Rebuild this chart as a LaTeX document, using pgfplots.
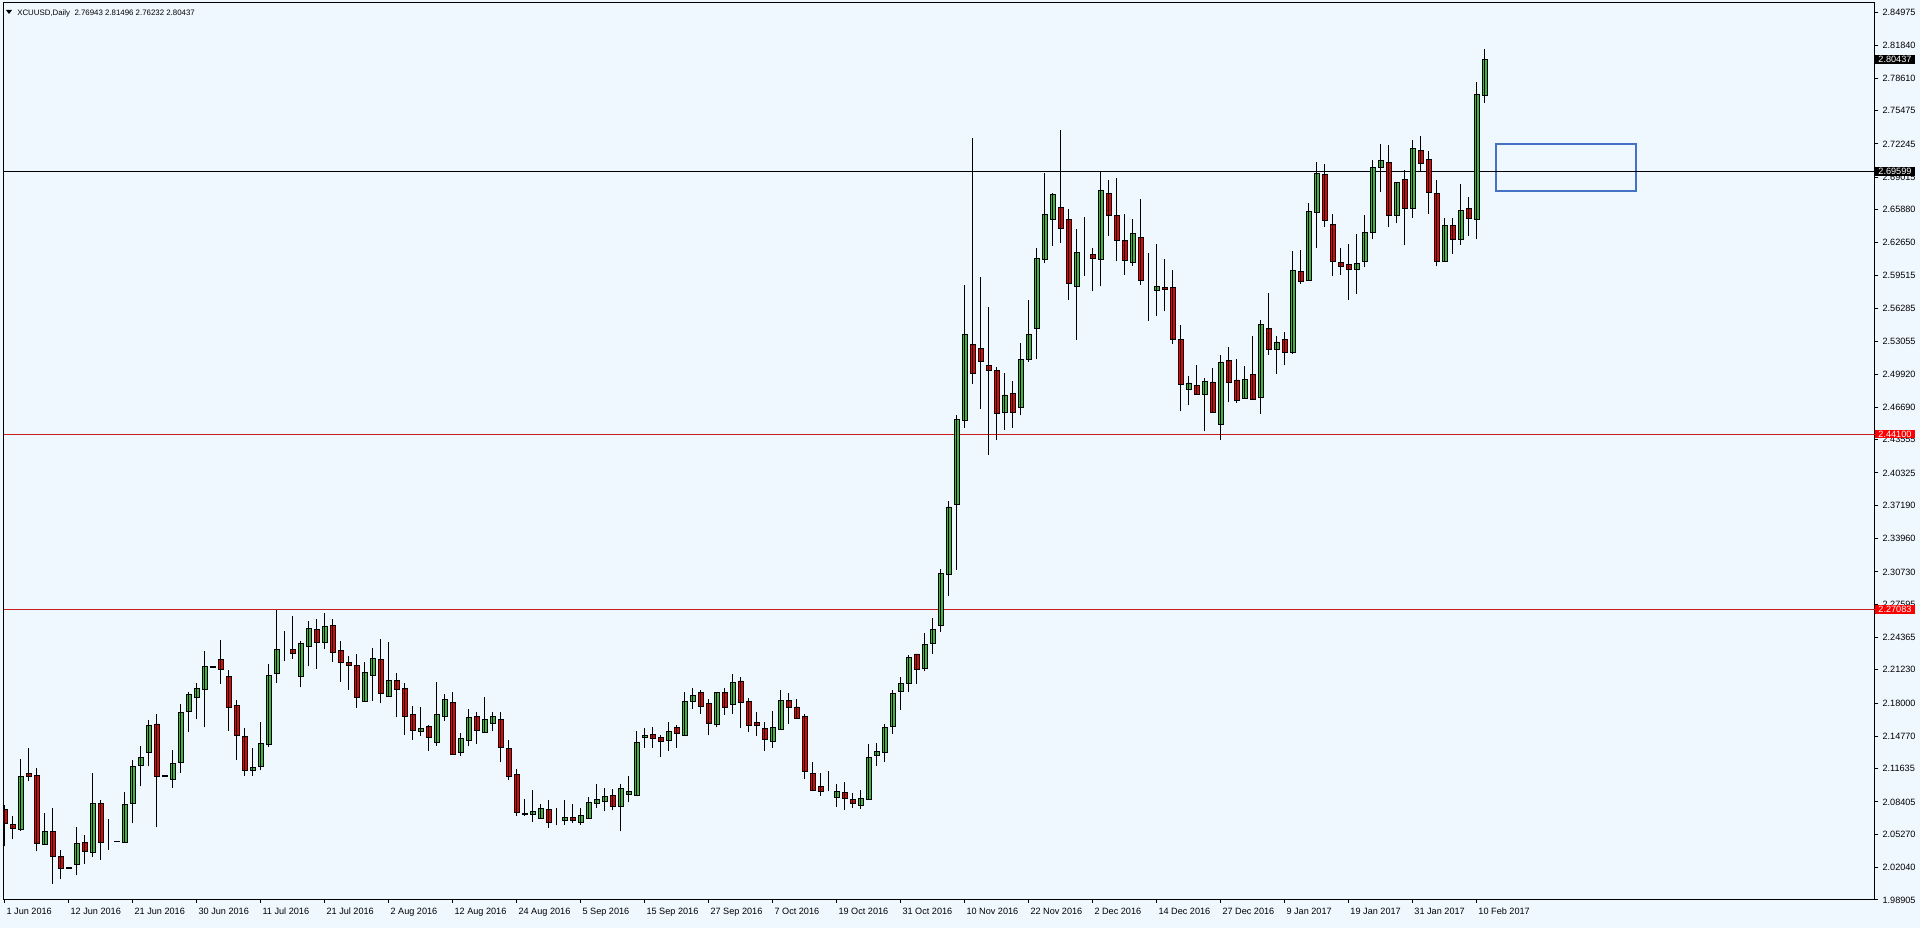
\documentclass[border=0pt]{standalone}
\usepackage{pgfplots}
\pgfplotsset{compat=1.18}
\usepackage{pgfplotstable}
\usepackage{fontspec}
\setmainfont{Liberation Sans}

\definecolor{chartbg}{RGB}{240,248,255}
\definecolor{bull}{RGB}{64,184,64}
\definecolor{bear}{RGB}{235,0,0}
\definecolor{lvlred}{RGB}{200,30,30}
\definecolor{boxblue}{RGB}{68,114,196}

% daily candles: bar index, open, high, low, close
\pgfplotstableread{
i o h l c
0 2.0772 2.0814 2.0410 2.0629
1 2.0620 2.0700 2.0481 2.0587
2 2.0578 2.1259 2.0562 2.1091
3 2.1114 2.1366 2.1040 2.1088
4 2.1101 2.1169 2.0361 2.0442
5 2.0432 2.0733 2.0432 2.0558
6 2.0558 2.0781 2.0045 2.0316
7 2.0310 2.0377 2.0093 2.0200
8 2.0200 2.0203 2.0197 2.0202
9 2.0239 2.0594 2.0129 2.0442
10 2.0452 2.0516 2.0235 2.0361
11 2.0355 2.1120 2.0306 2.0830
12 2.0830 2.0862 2.0281 2.0449
13 2.0458 2.0675 2.0377 2.0458
14 2.0458 2.0460 2.0456 2.0459
15 2.0449 2.0933 2.0449 2.0820
16 2.0826 2.1250 2.0636 2.1188
17 2.1195 2.1385 2.0991 2.1275
18 2.1321 2.1637 2.1185 2.1579
19 2.1598 2.1695 2.0594 2.1091
20 2.1091 2.1098 2.1089 2.1096
21 2.1060 2.1341 2.0980 2.1212
22 2.1225 2.1790 2.1122 2.1713
23 2.1719 2.1903 2.1516 2.1881
24 2.1858 2.1994 2.1645 2.1939
25 2.1933 2.2301 2.1568 2.2152
26 2.2149 2.2154 2.2147 2.2152
27 2.2220 2.2414 2.1987 2.2130
28 2.2055 2.2123 2.1532 2.1761
29 2.1781 2.1826 2.1251 2.1487
30 2.1474 2.1558 2.1089 2.1148
31 2.1148 2.1364 2.1089 2.1173
32 2.1186 2.1613 2.1148 2.1406
33 2.1400 2.2181 2.1374 2.2065
34 2.2091 2.2704 2.1994 2.2317
35 2.2323 2.2504 2.2204 2.2323
36 2.2323 2.2646 2.2230 2.2285
37 2.2058 2.2398 2.1952 2.2375
38 2.2352 2.2598 2.2155 2.2520
39 2.2511 2.2617 2.2133 2.2391
40 2.2391 2.2672 2.2323 2.2543
41 2.2549 2.2620 2.2203 2.2290
42 2.2307 2.2407 2.2006 2.2194
43 2.2190 2.2258 2.1929 2.2164
44 2.2161 2.2281 2.1751 2.1854
45 2.1819 2.2194 2.1819 2.2093
46 2.2071 2.2332 2.1822 2.2229
47 2.2219 2.2423 2.1799 2.1896
48 2.1867 2.2397 2.1858 2.2016
49 2.2016 2.2090 2.1661 2.1935
50 2.1938 2.1993 2.1493 2.1670
51 2.1693 2.1767 2.1444 2.1538
52 2.1528 2.1758 2.1476 2.1551
53 2.1570 2.1586 2.1338 2.1464
54 2.1418 2.2003 2.1386 2.1686
55 2.1674 2.1887 2.1628 2.1832
56 2.1803 2.1909 2.1305 2.1305
57 2.1325 2.1512 2.1283 2.1454
58 2.1441 2.1741 2.1380 2.1657
59 2.1674 2.1709 2.1405 2.1531
60 2.1515 2.1858 2.1509 2.1638
61 2.1605 2.1712 2.1525 2.1667
62 2.1644 2.1709 2.1224 2.1373
63 2.1363 2.1444 2.1050 2.1088
64 2.1111 2.1163 2.0707 2.0740
65 2.0733 2.0872 2.0701 2.0717
66 2.0724 2.0959 2.0646 2.0746
67 2.0685 2.0824 2.0675 2.0782
68 2.0772 2.0856 2.0588 2.0643
69 2.0646 2.0782 2.0614 2.0646
70 2.0662 2.0856 2.0620 2.0688
71 2.0688 2.0820 2.0636 2.0662
72 2.0646 2.0782 2.0620 2.0714
73 2.0685 2.0888 2.0675 2.0840
74 2.0827 2.1017 2.0782 2.0869
75 2.0846 2.0975 2.0749 2.0898
76 2.0901 2.0969 2.0759 2.0798
77 2.0798 2.1014 2.0556 2.0975
78 2.0914 2.1095 2.0837 2.0940
79 2.0901 2.1525 2.0895 2.1421
80 2.1463 2.1554 2.1363 2.1489
81 2.1499 2.1570 2.1363 2.1453
82 2.1463 2.1492 2.1276 2.1428
83 2.1437 2.1612 2.1337 2.1521
84 2.1560 2.1589 2.1369 2.1505
85 2.1486 2.1912 2.1476 2.1812
86 2.1815 2.1944 2.1744 2.1870
87 2.1899 2.1928 2.1696 2.1767
88 2.1793 2.1844 2.1486 2.1605
89 2.1596 2.1912 2.1566 2.1899
90 2.1906 2.1944 2.1689 2.1757
91 2.1789 2.2083 2.1692 2.2002
92 2.2015 2.2051 2.1557 2.1809
93 2.1812 2.1847 2.1515 2.1583
94 2.1612 2.1709 2.1476 2.1586
95 2.1557 2.1615 2.1337 2.1450
96 2.1431 2.1725 2.1369 2.1566
97 2.1541 2.1928 2.1541 2.1828
98 2.1828 2.1902 2.1596 2.1760
99 2.1763 2.1841 2.1644 2.1650
100 2.1667 2.1699 2.1063 2.1137
101 2.1114 2.1224 2.0943 2.0953
102 2.0991 2.1121 2.0901 2.0946
103 2.0943 2.1142 2.0943 2.0943
104 2.0888 2.1019 2.0795 2.0943
105 2.0935 2.1036 2.0761 2.0871
106 2.0867 2.0930 2.0782 2.0825
107 2.0812 2.0956 2.0774 2.0875
108 2.0863 2.1400 2.0863 2.1269
109 2.1290 2.1417 2.1189 2.1333
110 2.1324 2.1599 2.1227 2.1565
111 2.1574 2.1925 2.1502 2.1896
112 2.1913 2.2052 2.1735 2.1989
113 2.1989 2.2264 2.1904 2.2247
114 2.2277 2.2277 2.1989 2.2128
115 2.2137 2.2476 2.2107 2.2370
116 2.2382 2.2624 2.2277 2.2518
117 2.2552 2.3102 2.2488 2.3060
118 2.3051 2.3758 2.2835 2.3703
119 2.3724 2.4592 2.3094 2.4550
120 2.4541 2.5853 2.4469 2.5379
121 2.5282 2.7280 2.4893 2.5003
122 2.5244 2.5930 2.4656 2.5117
123 2.5079 2.5642 2.4211 2.5028
124 2.5025 2.5060 2.4350 2.4615
125 2.4624 2.5002 2.4450 2.4789
126 2.4808 2.4928 2.4470 2.4624
127 2.4673 2.5293 2.4592 2.5138
128 2.5138 2.5713 2.5109 2.5380
129 2.5435 2.6213 2.5138 2.6117
130 2.6107 2.6947 2.6068 2.6543
131 2.6494 2.6753 2.6236 2.6737
132 2.6611 2.7360 2.6262 2.6407
133 2.6488 2.6595 2.5713 2.5874
134 2.5842 2.6398 2.5325 2.6175
135 2.6171 2.6520 2.5945 2.6171
136 2.6149 2.6213 2.5794 2.6117
137 2.6107 2.6966 2.5842 2.6769
138 2.6746 2.6876 2.6333 2.6530
139 2.6527 2.6898 2.6084 2.6288
140 2.6285 2.6543 2.5955 2.6094
141 2.6075 2.6498 2.6042 2.6359
142 2.6314 2.6691 2.5858 2.5900
143 2.5819 2.6165 2.5509 2.5819
144 2.5803 2.6252 2.5552 2.5842
145 2.5836 2.6110 2.5600 2.5816
146 2.5836 2.6004 2.5283 2.5332
147 2.5325 2.5464 2.4631 2.4889
148 2.4847 2.4970 2.4689 2.4906
149 2.4880 2.5083 2.4792 2.4792
150 2.4792 2.4954 2.4437 2.4922
151 2.4915 2.5051 2.4621 2.4621
152 2.4508 2.5180 2.4356 2.5109
153 2.5122 2.5251 2.4718 2.4912
154 2.4935 2.5141 2.4712 2.4738
155 2.4751 2.5067 2.4751 2.4944
156 2.4986 2.5364 2.4744 2.4744
157 2.4770 2.5519 2.4605 2.5471
158 2.5438 2.5778 2.5180 2.5229
159 2.5229 2.5364 2.4996 2.5303
160 2.5325 2.5397 2.5077 2.5206
161 2.5206 2.6181 2.5190 2.5994
162 2.5988 2.6198 2.5865 2.5891
163 2.5900 2.6650 2.5900 2.6569
164 2.6559 2.7047 2.6214 2.6940
165 2.6925 2.7029 2.6418 2.6483
166 2.6447 2.6547 2.5940 2.6086
167 2.6079 2.6215 2.5956 2.6037
168 2.6053 2.6254 2.5714 2.6011
169 2.6011 2.6354 2.5772 2.6069
170 2.6086 2.6531 2.6027 2.6370
171 2.6370 2.7064 2.6302 2.7000
172 2.7000 2.7226 2.6754 2.7061
173 2.7048 2.7210 2.6415 2.6531
174 2.6531 2.6854 2.6457 2.6854
175 2.6877 2.6967 2.6241 2.6602
176 2.6602 2.7265 2.6505 2.7177
177 2.7161 2.7303 2.6948 2.7038
178 2.7077 2.7158 2.6547 2.6757
179 2.6748 2.6870 2.6037 2.6086
180 2.6086 2.6505 2.6086 2.6434
181 2.6434 2.6505 2.6160 2.6302
182 2.6302 2.6838 2.6247 2.6577
183 2.6596 2.6706 2.6334 2.6505
184 2.6496 2.7830 2.6302 2.7707
185 2.76943 2.81496 2.76232 2.80437
}\candles

\begin{document}
\begin{tikzpicture}[font=\fontsize{6.85}{8}\selectfont]
\fill[chartbg] (0,0) rectangle (1440pt,-696pt);
\begin{axis}[
  at={(3pt,-675pt)}, anchor=south west,
  scale only axis, width=1403.25pt, height=672.75pt,
  xmin=-0.125, xmax=233.75, ymin=1.98905, ymax=2.85916,
  ybar stacked, bar width=3.2pt,
  clip mode=individual,
  axis line style={black, line width=0.75pt},
  tick align=outside, major tick length=2.25pt,
  tick style={black, line width=0.75pt},
  xtick pos=left, ytick pos=right, yticklabel pos=right,
  xtick={0,8,...,184},
  xticklabels={1 Jun 2016,12 Jun 2016,21 Jun 2016,30 Jun 2016,11 Jul 2016,21 Jul 2016,2 Aug 2016,12 Aug 2016,24 Aug 2016,5 Sep 2016,15 Sep 2016,27 Sep 2016,7 Oct 2016,19 Oct 2016,31 Oct 2016,10 Nov 2016,22 Nov 2016,2 Dec 2016,14 Dec 2016,27 Dec 2016,9 Jan 2017,19 Jan 2017,31 Jan 2017,10 Feb 2017},
  xticklabel style={anchor=north west, inner xsep=1pt},
  ytick={1.98905,2.02040,2.05270,2.08405,2.11635,2.14770,2.18000,2.21230,2.24365,2.27595,2.30730,2.33960,2.37190,2.40325,2.43555,2.46690,2.49920,2.53055,2.56285,2.59515,2.62650,2.65880,2.69015,2.72245,2.75475,2.78610,2.81840,2.84975},
  yticklabels={1.98905,2.02040,2.05270,2.08405,2.11635,2.14770,2.18000,2.21230,2.24365,2.27595,2.30730,2.33960,2.37190,2.40325,2.43555,2.46690,2.49920,2.53055,2.56285,2.59515,2.62650,2.65880,2.69015,2.72245,2.75475,2.78610,2.81840,2.84975},
  yticklabel style={anchor=west},
]
% wicks
\addplot[forget plot, stack plots=false, draw=none, fill=none,
  error bars/.cd, y dir=plus, y explicit, error mark=none,
  error bar style={draw=black, line width=0.75pt}]
  table[x=i, y=l, y error expr=\thisrow{h}-\thisrow{l}] {\candles};
% bodies: invisible base, then bull part, then bear part
\addplot[draw=none, fill=none] table[x=i, y expr={min(\thisrow{o},\thisrow{c})}] {\candles};
\addplot[draw=black, line width=0.6pt, fill=bull] table[x=i, y expr={max(\thisrow{c}-\thisrow{o},0)}] {\candles};
\addplot[draw=black, line width=0.6pt, fill=bear] table[x=i, y expr={max(\thisrow{o}-\thisrow{c},0)}] {\candles};

\draw[black, line width=0.75pt] (axis cs:-0.125,2.69599) -- (axis cs:233.75,2.69599);
\draw[lvlred, line width=0.75pt] (axis cs:-0.125,2.44100) -- (axis cs:233.75,2.44100);
\draw[lvlred, line width=0.75pt] (axis cs:-0.125,2.27083) -- (axis cs:233.75,2.27083);
\draw[boxblue, line width=1.5pt] (axis cs:186.4,2.7228) rectangle (axis cs:203.9,2.6764);

\coordinate (t1) at (axis cs:233.75,2.80437);
\coordinate (t2) at (axis cs:233.75,2.69599);
\coordinate (t3) at (axis cs:233.75,2.44100);
\coordinate (t4) at (axis cs:233.75,2.27083);
\end{axis}
\tikzset{tag/.style={anchor=west, text=white, inner xsep=2.5pt, inner ysep=0.8pt, text height=5pt, text depth=0pt}}
\node[tag, fill=black] at (t1) {2.80437};
\node[tag, fill=black] at (t2) {2.69599};
\node[tag, fill=red] at (t3) {2.44100};
\node[tag, fill=red] at (t4) {2.27083};
\fill (4.5pt,-7.5pt) -- (9pt,-7.5pt) -- (6.75pt,-10.5pt) -- cycle;
\node[anchor=base west, inner sep=0pt, font=\fontsize{5.9}{7}\selectfont] at (12.75pt,-11.5pt) {XCUUSD,Daily\ \ 2.76943 2.81496 2.76232 2.80437};
\path[use as bounding box] (0,0) rectangle (1440pt,-696pt);
\end{tikzpicture}
\end{document}
